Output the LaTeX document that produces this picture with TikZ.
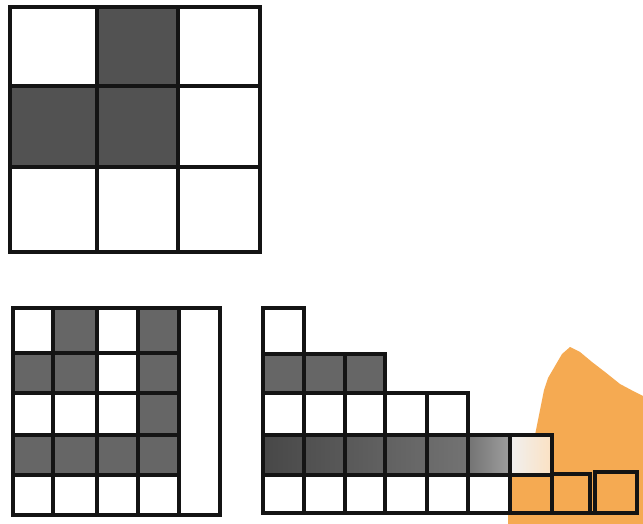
\documentclass[tikz,border=0pt]{standalone}
\usetikzlibrary{calc}
\definecolor{blob}{RGB}{245,170,82}
\begin{document}
\begin{tikzpicture}[x=1pt,y=-1pt,
  grid/.style={line width=3.2pt, line cap=rect, line join=miter, draw=black!92},
  dark/.style={fill=black!68},
  mid/.style={fill=black!60},
  pale/.style={left color=black!6, right color=blob!35}]
\useasboundingbox (0,0) rectangle (643,524);
% ---------- top 3x3 grid ----------
\fill[dark] (97,7) rectangle (178,86);
\fill[dark] (10,86) rectangle (178,167);
\draw[grid] (10,7) rectangle (260,252);
\foreach \x in {97,178} \draw[grid] (\x,7) -- (\x,252);
\foreach \y in {86,167} \draw[grid] (10,\y) -- (260,\y);
% ---------- bottom-left grid ----------
\fill[mid] (53,308) rectangle (97,353);
\fill[mid] (138,308) rectangle (179,435);
\fill[mid] (13,353) rectangle (97,393);
\fill[mid] (13,435) rectangle (179,475);
\draw[grid] (13,308) rectangle (220,515);
\foreach \x in {53,97,138,179} \draw[grid] (\x,308) -- (\x,515);
\foreach \y in {353,393,435,475} \draw[grid] (13,\y) -- (179,\y);
% ---------- orange blob ----------
\fill[blob] (570,347) -- (580,352) -- (592,362) -- (605,372) -- (620,384)
  -- (635,392) -- (643,396) -- (643,524) -- (508,524) -- (508,476)
  -- (512,474) -- (512,435) -- (535,435) -- (538,420) -- (541,405)
  -- (544,390) -- (548,378) -- (555,366) -- (562,354) -- cycle;
% ---------- bottom-right staircase ----------
\fill[mid] (263,354) rectangle (385,393);
\fill[left color=black!72, right color=black!55] (263,435) rectangle (468,475);
\fill[left color=black!55, right color=black!38] (468,435) rectangle (510,475);
\fill[pale] (510,435) rectangle (552,475);
\draw[grid] (263,513) -- (263,308) -- (304,308) -- (304,354) -- (385,354)
  -- (385,393) -- (468,393) -- (468,435) -- (552,435) -- (552,474)
  -- (590,474) -- (590,513);
\draw[grid] (595,472) rectangle (637,513);
\draw[grid] (263,513) -- (637,513);
\draw[grid] (304,354) -- (304,513);
\draw[grid] (345,354) -- (345,513);
\foreach \x in {385,427} \draw[grid] (\x,393) -- (\x,513);
\foreach \x in {468,510} \draw[grid] (\x,435) -- (\x,513);
\draw[grid] (552,474) -- (552,513);
\draw[grid] (263,354) -- (304,354);
\draw[grid] (263,393) -- (385,393);
\draw[grid] (263,435) -- (468,435);
\draw[grid] (263,475) -- (552,475);
\end{tikzpicture}
\end{document}
